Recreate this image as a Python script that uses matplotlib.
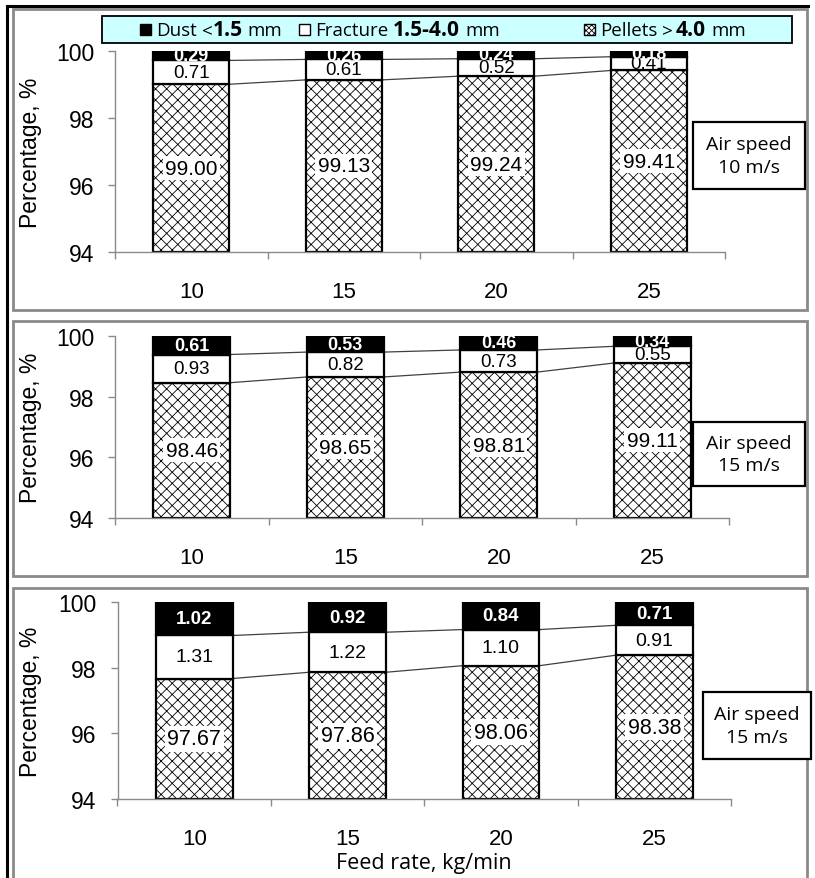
import matplotlib
matplotlib.use('Agg')
import matplotlib.pyplot as plt
from matplotlib.patches import Rectangle
from matplotlib.lines import Line2D

# data
feed_rate = ['10', '15', '20', '25']

pellets_a = [99.00, 99.13, 99.24, 99.41]
fracture_a = [0.71, 0.61, 0.52, 0.41]
dust_a = [0.29, 0.26, 0.24, 0.18]

pellets_b = [98.46, 98.65, 98.81, 99.11]
fracture_b = [0.93, 0.82, 0.73, 0.55]
dust_b = [0.61, 0.53, 0.46, 0.34]

pellets_c = [97.67, 97.86, 98.06, 98.38]
fracture_c = [1.31, 1.22, 1.10, 0.91]
dust_c = [1.02, 0.92, 0.84, 0.71]

air_speed = ['10 m/s', '15 m/s', '15 m/s']
y_min, y_max = 94, 100

W, H = 815, 879
plt.rcParams['hatch.linewidth'] = 0.6
plt.rcParams['font.family'] = ['Liberation Sans', 'DejaVu Sans']
CAL = ['Open Sans', 'DejaVu Sans']
GRAY = '#8a8a8a'


def fx(px):
    return px / W


def fy(py):
    return 1 - py / H


fig = plt.figure(figsize=(W / 100, H / 100), dpi=100)

# outer frame and panel borders
fig.add_artist(Line2D([fx(7), fx(808)], [fy(7), fy(7)], color='black', lw=2.2))
fig.add_artist(Line2D([fx(7), fx(7)], [fy(7), fy(879)], color='black', lw=2.2))
for top, bot in [(10, 311), (322, 577), (589, 900)]:
    fig.add_artist(Rectangle((fx(13), fy(bot)), fx(807) - fx(13), (bot - top) / H,
                             fill=False, edgecolor=GRAY, lw=2))

panels = [
    dict(pel=pellets_a, fra=fracture_a, dust=dust_a, speed=air_speed[0],
         ax=(115, 725, 51.7, 253), air=(693, 805, 123, 190), fs=15),
    dict(pel=pellets_b, fra=fracture_b, dust=dust_b, speed=air_speed[1],
         ax=(115, 729, 337, 519), air=(693, 805, 423, 487), fs=15),
    dict(pel=pellets_c, fra=fracture_c, dust=dust_c, speed=air_speed[2],
         ax=(117.5, 731, 603, 800), air=(703, 811, 693, 760), fs=15.5),
]

for p in panels:
    l, r, t, b = p['ax']
    ax = fig.add_axes([fx(l), fy(b), fx(r) - fx(l), (b - t) / H])
    x = list(range(len(feed_rate)))
    pel, fra, dust = p['pel'], p['fra'], p['dust']
    top1 = [a + c for a, c in zip(pel, fra)]
    ax.bar(x, [v - y_min for v in pel], bottom=y_min, width=0.5, color='white',
           edgecolor='black', hatch='xxx', lw=1.6, zorder=2)
    ax.bar(x, fra, bottom=pel, width=0.5, color='white', edgecolor='black', lw=1.6, zorder=2)
    ax.bar(x, dust, bottom=top1, width=0.5, color='black', edgecolor='black', lw=1.6, zorder=2)

    # series lines between bars
    for series in (pel, top1):
        for i in range(len(x) - 1):
            ax.plot([x[i] + 0.25, x[i + 1] - 0.25], [series[i], series[i + 1]],
                    color='#404040', lw=0.9, zorder=1)

    for i in x:
        ax.text(i, (y_min + pel[i]) / 2, f'{pel[i]:.2f}', ha='center', va='center',
                fontsize=p['fs'], zorder=4,
                bbox=dict(boxstyle='square,pad=0.12', facecolor='white', edgecolor='none'))
        ax.text(i, pel[i] + fra[i] / 2, f'{fra[i]:.2f}', ha='center', va='center',
                fontsize=p['fs'] - 1.5, zorder=4)
        ax.text(i, top1[i] + dust[i] / 2, f'{dust[i]:.2f}', ha='center', va='center',
                fontsize=p['fs'] - 2, color='white', fontweight='bold', zorder=4, clip_on=True)

    ax.set_ylim(y_min, y_max)
    ax.set_xlim(-0.5, len(x) - 0.5)
    ax.set_yticks([94, 96, 98, 100])
    ax.set_xticks([i - 0.5 for i in range(len(x) + 1)])
    ax.set_xticklabels([])
    ax.set_xticks(x, minor=True)
    ax.set_xticklabels(feed_rate, minor=True)
    ax.tick_params(axis='x', which='minor', length=0, pad=21, labelsize=16)
    ax.tick_params(axis='x', which='major', length=5, color=GRAY, width=1)
    ax.tick_params(axis='y', length=5, color=GRAY, width=1, pad=10, labelsize=16.5)
    for s in ('top', 'right'):
        ax.spines[s].set_visible(False)
    for s in ('left', 'bottom'):
        ax.spines[s].set_color(GRAY)
        ax.spines[s].set_linewidth(1)

    fig.text(fx(31), fy((t + b) / 2), 'Percentage, %', rotation=90, ha='center',
             va='center', fontsize=16.5)

    al, ar, at, ab = p['air']
    fig.add_artist(Rectangle((fx(al), fy(ab)), fx(ar) - fx(al), (ab - at) / H,
                             facecolor='white', edgecolor='black', lw=1.6))
    fig.text(fx((al + ar) / 2), fy((at + ab) / 2), 'Air speed\n' + p['speed'],
             ha='center', va='center', fontsize=14, family=CAL, linespacing=1.3)

fig.text(fx(424), fy(864), 'Feed rate, kg/min', ha='center', va='center',
         fontsize=15.5, family=CAL)

# legend
fig.add_artist(Rectangle((fx(102), fy(44)), fx(792) - fx(102), 27 / H,
                         facecolor='#ccffff', edgecolor='black', lw=1.3))
renderer = fig.canvas.get_renderer()


def draw_pieces(x0, base, pieces):
    xp = x0
    for s, big in pieces:
        if s is None:
            xp += big
            continue
        txt = fig.text(fx(xp), fy(base), s, ha='left', va='baseline', family=CAL,
                       fontsize=15 if big else 13.5, fontweight='bold' if big else 'normal')
        xp += txt.get_window_extent(renderer).width


legend_items = [
    (140, dict(facecolor='black', edgecolor='black'), 156,
     [('Dust', False), (None, 5), ('<', False), ('1.5', True), (None, 5), ('mm', False)]),
    (299, dict(facecolor='white', edgecolor='black'), 315,
     [('Fracture', False), (None, 5), ('1.5-4.0', True), (None, 5), ('mm', False)]),
    (584, dict(facecolor='white', edgecolor='black', hatch='xxxxxx'), 600,
     [('Pellets', False), (None, 5), ('>', False), (None, 3), ('4.0', True), (None, 5), ('mm', False)]),
]
for sq_x, style, tx, pieces in legend_items:
    fig.add_artist(Rectangle((fx(sq_x), fy(36)), 11 / W, 11 / H, lw=1, **style))
    draw_pieces(tx, 36.5, pieces)

fig.savefig('out.png', dpi=100)
